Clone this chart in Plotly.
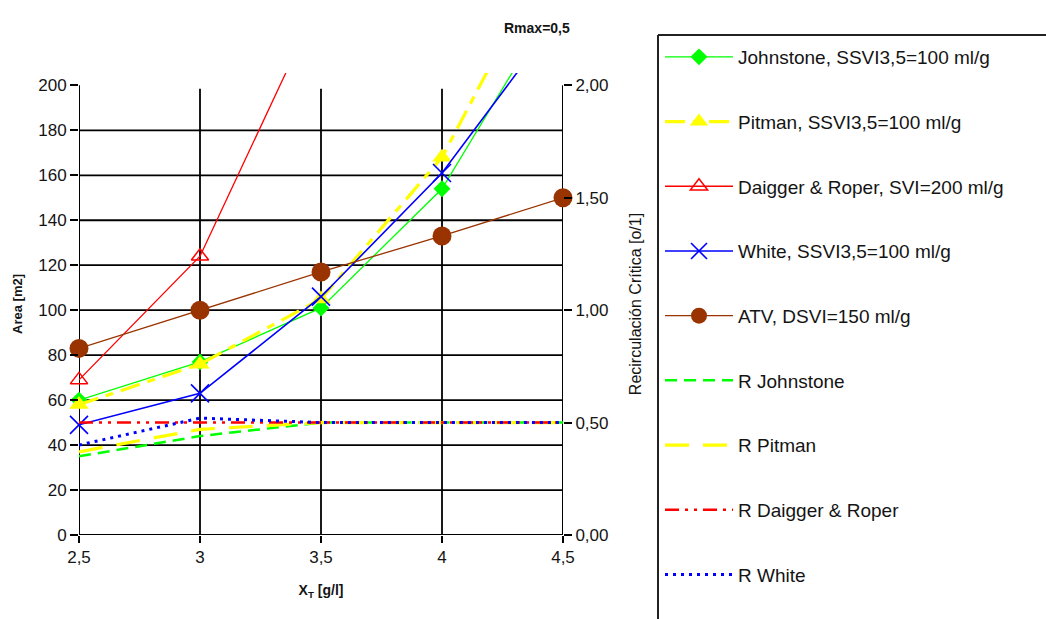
import plotly.graph_objects as go

# Solids concentration X_T [g/l]
x_vals = [2.5, 3.0, 3.5, 4.0, 4.5]
x_tick_text = ["2,5", "3", "3,5", "4", "4,5"]

# Required clarifier area [m2] per design method
area_johnstone = [60, 77, 101, 154, 243]
area_pitman = [58, 76, 105, 168, 270]
area_daigger = [69, 124, 239, None, None]
area_white = [49, 63, 106, 161, 233]
area_atv = [83, 100, 117, 133, 150]

# Critical recirculation ratio [o/1]
r_johnstone = [0.35, 0.44, 0.50, 0.50, 0.50]
r_pitman = [0.37, 0.47, 0.50, 0.50, 0.50]
r_daigger = [0.50, 0.50, 0.50, 0.50, 0.50]
r_white = [0.40, 0.52, 0.50, 0.50, 0.50]

left_ticks = [0, 20, 40, 60, 80, 100, 120, 140, 160, 180, 200]
right_ticks = [0.0, 0.5, 1.0, 1.5, 2.0]
right_tick_text = ["0,00", "0,50", "1,00", "1,50", "2,00"]

FONT = "Liberation Sans, Arial, sans-serif"
INK = "#141414"
GREEN = "#00FF00"
YELLOW = "#FFFF00"
RED = "#FF0000"
BLUE = "#0000FF"
BROWN = "#993300"

fig = go.Figure()

area_series = [
    ("Johnstone, SSVI3,5=100 ml/g", area_johnstone,
     dict(color=GREEN, width=1.3), dict(symbol="diamond", size=13, color=GREEN)),
    ("Pitman, SSVI3,5=100 ml/g", area_pitman,
     dict(color=YELLOW, width=3.2, dash="20px,8px,8px,8px"),
     dict(symbol="triangle-up", size=17, color=YELLOW)),
    ("Daigger & Roper, SVI=200 ml/g", area_daigger,
     dict(color=RED, width=1.3),
     dict(symbol="triangle-up-open", size=15, color=RED, line=dict(color=RED, width=1.5))),
    ("White, SSVI3,5=100 ml/g", area_white,
     dict(color=BLUE, width=1.6),
     dict(symbol="x-thin-open", size=18, color=BLUE, line=dict(color=BLUE, width=1.6))),
    ("ATV, DSVI=150 ml/g", area_atv,
     dict(color=BROWN, width=1.3), dict(symbol="circle", size=19, color=BROWN)),
]

for i, (name, ys, line, marker) in enumerate(area_series):
    fig.add_trace(go.Scatter(
        x=x_vals, y=ys, name=name, mode="lines+markers",
        line=line, marker=marker, cliponaxis=False,
        legendgroup=f"g{i}", yaxis="y",
    ))

r_series = [
    ("R Johnstone", r_johnstone, dict(color=GREEN, width=2.5, dash="12px,7px")),
    ("R Pitman", r_pitman, dict(color=YELLOW, width=3.2, dash="24px,14px")),
    ("R Daigger & Roper", r_daigger,
     dict(color=RED, width=2.5, dash="14px,6px,3px,6px,3px,6px")),
    ("R White", r_white, dict(color=BLUE, width=3, dash="3px,5px")),
]

for j, (name, ys, line) in enumerate(r_series):
    fig.add_trace(go.Scatter(
        x=x_vals, y=ys, name=name, mode="lines", line=line,
        legendgroup=f"r{j}", yaxis="y2",
    ))

# Grid and axis frame, stopping at the last tick (200 / 2,00)
shapes = []
grid = dict(color="#000000", width=1.8)
for v in left_ticks[1:-1]:
    shapes.append(dict(type="line", xref="x", yref="y", x0=x_vals[0], x1=x_vals[-1],
                       y0=v, y1=v, line=grid, layer="below"))
for xv in x_vals[1:-1]:
    shapes.append(dict(type="line", xref="x", yref="y", x0=xv, x1=xv,
                       y0=0, y1=198.5, line=grid, layer="below"))
frame = dict(color="#000000", width=2)
shapes.append(dict(type="line", xref="x", yref="y", x0=x_vals[0], x1=x_vals[0],
                   y0=0, y1=200, line=frame, layer="below"))
shapes.append(dict(type="line", xref="x", yref="y", x0=x_vals[-1], x1=x_vals[-1],
                   y0=0, y1=200, line=frame, layer="below"))
shapes.append(dict(type="line", xref="x", yref="y", x0=x_vals[0], x1=x_vals[-1],
                   y0=0, y1=0, line=frame, layer="below"))

# Legend frame (left and top edges, running off the page)
L, T, H = 79, 73, 462
W = 484
def px(xp):
    return (xp - L) / W
def py(yp):
    return (T + H - yp) / H
box = dict(color="#222222", width=2)
shapes.append(dict(type="line", xref="paper", yref="paper",
                   x0=px(658), x1=px(658), y0=py(35), y1=py(640), line=box))
shapes.append(dict(type="line", xref="paper", yref="paper",
                   x0=px(658), x1=px(1060), y0=py(35), y1=py(35), line=box))

fig.update_layout(
    width=1046, height=619,
    margin=dict(l=L, r=1046 - L - W, t=T, b=619 - T - H),
    paper_bgcolor="white", plot_bgcolor="white",
    font=dict(family=FONT, color=INK),
    shapes=shapes,
    showlegend=True,
    legend=dict(
        x=px(660), y=py(38), xanchor="left", yanchor="top",
        font=dict(family=FONT, size=19, color=INK),
        itemwidth=68, tracegroupgap=37, traceorder="grouped",
        bgcolor="rgba(0,0,0,0)", borderwidth=0, maxheight=900,
    ),
    xaxis=dict(
        range=[2.5, 4.5], tickvals=x_vals, ticktext=x_tick_text,
        ticks="outside", ticklen=7, tickwidth=1.8, tickcolor="#000",
        showgrid=False, zeroline=False, showline=False,
        tickfont=dict(size=17, color=INK),
        title=dict(text="<b>X<sub>T</sub> [g/l]</b>", font=dict(size=14, color=INK), standoff=18),
    ),
    yaxis=dict(
        range=[0, 205.5], tickvals=left_ticks, ticktext=[str(v) for v in left_ticks],
        ticks="outside", ticklen=8, tickwidth=1.8, tickcolor="#000",
        showgrid=False, zeroline=False, showline=False,
        tickfont=dict(size=17, color=INK),
        title=dict(text="<b>Area [m2]</b>", font=dict(size=13, color=INK), standoff=12),
    ),
    yaxis2=dict(
        range=[0, 2.055], tickvals=right_ticks, ticktext=right_tick_text,
        overlaying="y", side="right",
        ticks="outside", ticklen=8, tickwidth=1.8, tickcolor="#000",
        showgrid=False, zeroline=False, showline=False,
        tickfont=dict(size=17, color=INK),
        title=dict(text="Recirculación Crítica [o/1]", font=dict(size=16, color=INK), standoff=22),
    ),
    annotations=[
        dict(text="<b>Rmax=0,5</b>", xref="paper", yref="paper",
             x=px(537), y=py(28), xanchor="center", yanchor="middle",
             showarrow=False, font=dict(family=FONT, size=14, color=INK)),
    ],
)

fig.write_html("out.html")
